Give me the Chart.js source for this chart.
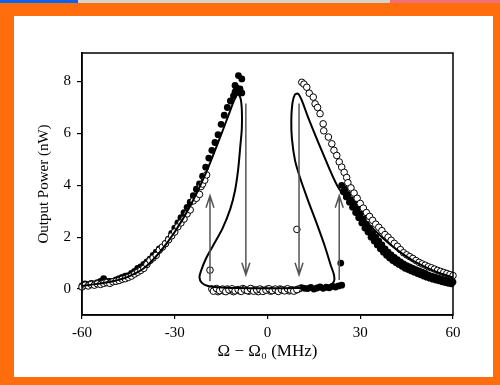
<!DOCTYPE html>
<html>
<head>
<meta charset="utf-8">
<script src="https://cdn.jsdelivr.net/npm/chart.js@4.4.1/dist/chart.umd.min.js"></script>
<style>
  html, body { margin: 0; padding: 0; }
  body { width: 500px; height: 385px; position: relative; overflow: hidden; background: #ff6d0c; }
  #topbar { position: absolute; left: 0; top: 0; width: 500px; height: 3px; background: #d6d3cc; }
  #topblue { position: absolute; left: 0; top: 0; width: 78px; height: 3px; background: #0a64f0; }
  #topred { position: absolute; left: 390px; top: 0; width: 110px; height: 3px; background: #f0707a; }
  #panel { position: absolute; left: 14px; top: 16px; width: 479px; height: 361px; background: #fff; }
  canvas { display: block; }
</style>
</head>
<body>
<div id="topbar"></div>
<div id="topblue"></div>
<div id="topred"></div>
<div id="panel"><canvas id="chart" width="479" height="361"></canvas></div>
<script>
// Tick labels
const xTicks = [-60, -30, 0, 30, 60];
const yTicks = [0, 2, 4, 6, 8];

// Filled circles (sweep up)
const filledX = [-60, -59, -58, -57, -56, -55, -54, -53, -52, -51, -50, -49, -48, -47, -46, -45, -44, -43, -42, -41,
  -40, -39, -38, -37, -36, -35, -34, -33, -32, -31, -30, -29, -28, -27, -26, -25, -24, -23, -22, -21,
  -20, -19, -18, -17, -16, -15, -14, -13, -12, -11, -10.5, -10, -9.4, -8.3, -10.5, -8.9, -10, -8.3,
  10.5, 11, 12, 13, 14, 15, 16, 17, 18, 19, 20, 21, 22, 23, 24, 23.7,
  24, 25, 26, 27, 28, 29, 30, 31, 32, 33, 34, 35, 36, 37, 38, 39, 40, 41, 42, 43, 44, 45, 46, 47, 48, 49,
  50, 51, 52, 53, 54, 55, 56, 57, 58, 59, 60,
  24.5, 25.5, 26.5, 27.5, 28.5, 29.5, 30.5, 31.5, 32.5, 33.5, 34.5, 35.5, 36.5, 37.5, 38.5, 39.5, 40.5, 41.5,
  42.5, 43.5, 44.5, 45.5, 46.5, 47.5, 48.5, 49.5, 50.5, 51.5, 52.5, 53.5, 54.5, 55.5, 56.5, 57.5, 58.5, 59.5];
const filledY = [0.12, 0.2, 0.17, 0.22, 0.2, 0.25, 0.3, 0.4, 0.3, 0.3, 0.3, 0.35, 0.4, 0.45, 0.5, 0.52, 0.6, 0.68, 0.8, 0.85,
  0.95, 1.05, 1.15, 1.3, 1.42, 1.55, 1.62, 1.75, 1.92, 2.15, 2.35, 2.55, 2.75, 2.95, 3.15, 3.35, 3.6, 3.85, 4.05, 4.35,
  4.7, 5.05, 5.35, 5.65, 5.95, 6.35, 6.7, 7.0, 7.25, 7.45, 7.6, 7.75, 8.23, 8.1, 7.85, 7.72, 7.6, 7.56,
  0.02, 0.05, 0.03, 0.02, 0.06, 0.0, 0.04, 0.08, 0.03, 0.07, 0.05, 0.1, 0.08, 0.12, 0.15, 1.0,
  4.0, 3.85, 3.65, 3.45, 3.3, 3.1, 2.9, 2.7, 2.5, 2.35, 2.15, 2.0, 1.85, 1.7, 1.55, 1.42, 1.32, 1.22, 1.13, 1.05, 0.97, 0.9, 0.85, 0.8, 0.75, 0.7,
  0.65, 0.6, 0.55, 0.5, 0.47, 0.43, 0.4, 0.36, 0.33, 0.3, 0.27,
  3.75, 3.55, 3.35, 3.15, 2.95, 2.75, 2.55, 2.35, 2.2, 2.0, 1.85, 1.7, 1.55, 1.42, 1.3, 1.2, 1.1, 1.02,
  0.95, 0.88, 0.8, 0.75, 0.7, 0.65, 0.6, 0.55, 0.5, 0.46, 0.42, 0.38, 0.35, 0.32, 0.28, 0.25, 0.22, 0.2];

// Open circles (sweep down)
const openX = [-60, -59, -58, -57, -56, -55, -54, -53, -52, -51, -50, -49, -48, -47, -46, -45, -44, -43, -42, -41,
  -40, -39, -38, -37, -36, -35, -34, -33, -32, -31, -30, -29, -28, -27, -26, -25, -24, -23, -22, -21.5, -21, -20.3, -19.7,
  -18.6,
  -18, -17, -16, -15, -14, -13, -12, -11, -10, -9, -8, -7, -6, -5, -4, -3, -2, -1, 0, 1, 2, 3, 4, 5, 6, 7, 8, 9, 10,
  -17.5, -16.5, -15.5, -14.5, -13.5, -12.5, -11.5, -10.5, -9.5, -8.5, -7.5, -6.5, -5.5, -4.5, -3.5, -2.5, -1.5, -0.5,
  0.5, 1.5, 2.5, 3.5, 4.5, 5.5, 6.5, 7.5, 8.5, 9.5,
  9.5, 11.1, 11.8, 12.7, 13.5, 14.8, 15.4, 16.2, 17, 18, 18.2, 19.7, 20.8, 21.5, 22.4, 23.2, 24, 24.8, 25.6,
  26, 27, 28, 29, 30, 31, 32, 33, 34, 35, 36, 37, 38, 39, 40, 41, 42, 43, 44, 45, 46, 47, 48, 49, 50,
  51, 52, 53, 54, 55, 56, 57, 58, 59, 60];
const openY = [0.08, 0.15, 0.12, 0.18, 0.15, 0.2, 0.18, 0.22, 0.25, 0.22, 0.28, 0.3, 0.33, 0.38, 0.4, 0.45, 0.5, 0.58, 0.65, 0.72,
  0.8, 0.95, 1.1, 1.2, 1.3, 1.5, 1.62, 1.75, 1.9, 2.05, 2.2, 2.4, 2.55, 2.7, 2.9, 3.05, 3.4, 3.5, 3.65, 3.95, 4.05, 4.2, 4.4,
  0.73,
  0.0, -0.05, -0.1, -0.02, -0.08, 0.0, -0.05, -0.1, -0.03, -0.07, 0.02, -0.04, -0.08, 0.0, -0.05, -0.1, -0.02, -0.06, 0.0, -0.08, -0.03, -0.06, 0.0, -0.05, -0.02, -0.07, -0.03, -0.05, 0.0,
  -0.08, 0.02, -0.06, 0.0, -0.1, -0.03, 0.01, -0.07, -0.02, -0.09, -0.01, -0.06, 0.02, -0.08, -0.03, 0.0, -0.09, -0.04,
  0.01, -0.06, 0.0, -0.09, -0.02, -0.07, 0.01, -0.04, -0.08, -0.02,
  2.3, 7.97, 7.9, 7.78, 7.55, 7.4, 7.14, 7.0, 6.76, 6.37, 6.1, 5.86, 5.6, 5.35, 5.15, 4.9, 4.7, 4.5, 4.3,
  4.1, 3.9, 3.7, 3.5, 3.3, 3.12, 2.95, 2.8, 2.65, 2.5, 2.38, 2.25, 2.1, 2.0, 1.88, 1.76, 1.65, 1.52, 1.4, 1.32, 1.25, 1.18, 1.1, 1.03, 0.97,
  0.92, 0.86, 0.82, 0.77, 0.72, 0.68, 0.64, 0.6, 0.56, 0.52];

// Theory curve, traced as one path (both bistable branches)
const theoryX = [-60, -55, -50, -45, -40, -35, -30, -25, -20, -15, -12, -10.5, -9.5, -8.7, -8.3, -8.3, -8.8, -9.5, -10.5, -12,
  -14.5, -17.5, -20, -21.5, -22, -21.3, -19.5, -16, -10, 0, 10, 17, 20, 21.5, 21.5, 20.5, 18.6, 16, 13.1, 10.5,
  8.9, 7.9, 7.7, 8.1, 8.9, 9.9, 11, 13.1, 17.5, 22.8, 27, 32, 37, 42, 47, 52, 56, 60];
const theoryY = [0.12, 0.2, 0.3, 0.48, 0.8, 1.4, 2.2, 3.2, 4.45, 5.95, 6.9, 7.35, 7.5, 7.35, 6.9, 6.2, 5.5, 4.6, 3.8, 3.1,
  2.35, 1.7, 1.15, 0.7, 0.45, 0.25, 0.13, 0.07, 0.04, 0.03, 0.04, 0.07, 0.13, 0.3, 0.55, 0.9, 1.63, 2.5, 3.42, 4.3,
  4.96, 5.8, 6.5, 7.2, 7.5, 7.53, 7.3, 6.63, 5.35, 3.93, 3.3, 2.6, 2.0, 1.5, 1.1, 0.8, 0.6, 0.45];

// Jump arrows: x position, start value, end value
const arrowX = [-18.6, -7.0, 10.2, 23.2];
const arrowFrom = [0.3, 7.15, 7.15, 0.35];
const arrowTo = [3.6, 0.55, 0.55, 3.6];

const toPoints = (xs, ys) => xs.map((x, i) => ({ x: x, y: ys[i] }));
const serif = "'Liberation Serif', 'DejaVu Serif', serif";

const boxPlugin = {
  id: 'box',
  afterDatasetsDraw(chart) {
    const { ctx, scales } = chart;
    ctx.save();
    ctx.strokeStyle = '#555';
    ctx.lineWidth = 1.5;
    for (let i = 0; i < arrowX.length; i++) {
      const px = scales.x.getPixelForValue(arrowX[i]);
      const y0 = scales.y.getPixelForValue(arrowFrom[i]);
      const y1 = scales.y.getPixelForValue(arrowTo[i]);
      const dir = y1 < y0 ? 1 : -1;
      ctx.beginPath();
      ctx.moveTo(px, y0);
      ctx.lineTo(px, y1);
      ctx.moveTo(px - 4, y1 + dir * 12);
      ctx.lineTo(px, y1);
      ctx.lineTo(px + 4, y1 + dir * 12);
      ctx.stroke();
    }
    ctx.restore();
  },
  afterDraw(chart) {
    const { ctx, chartArea } = chart;
    ctx.save();
    ctx.strokeStyle = '#000';
    ctx.lineWidth = 1.5;
    ctx.strokeRect(chartArea.left, chartArea.top, chartArea.right - chartArea.left, chartArea.bottom - chartArea.top);
    ctx.restore();
  }
};

new Chart(document.getElementById('chart'), {
  type: 'scatter',
  data: {
    datasets: [
      {
        data: toPoints(theoryX, theoryY),
        showLine: true,
        borderColor: '#000',
        borderWidth: 2,
        pointRadius: 0,
        tension: 0.3,
        clip: false,
        order: 1
      },
      {
        data: toPoints(openX, openY),
        backgroundColor: '#fff',
        borderColor: '#000',
        borderWidth: 1,
        pointRadius: 3.3,
        clip: false,
        order: 2
      },
      {
        data: toPoints(filledX, filledY),
        backgroundColor: '#000',
        borderColor: '#000',
        borderWidth: 0,
        pointRadius: 3.4,
        clip: false,
        order: 3
      }
    ]
  },
  options: {
    responsive: false,
    animation: false,
    layout: { padding: { top: 37, right: 40, left: 0, bottom: 0 } },
    plugins: { legend: { display: false }, tooltip: { enabled: false } },
    scales: {
      x: {
        type: 'linear',
        min: -60,
        max: 60,
        afterBuildTicks: (scale) => { scale.ticks = xTicks.map(v => ({ value: v })); },
        afterFit: (scale) => { scale.height = 62; },
        grid: { drawOnChartArea: false, tickLength: 4, color: '#000', lineWidth: 1.2 },
        border: { color: '#000', width: 1.5 },
        ticks: { color: '#000', font: { family: serif, size: 15 }, padding: 5 },
        title: {
          display: true,
          text: 'Ω − Ω₀ (MHz)',
          color: '#000',
          font: { family: serif, size: 17 },
          padding: { top: 0, bottom: 15 }
        }
      },
      y: {
        min: -1,
        max: 9.1,
        afterBuildTicks: (scale) => { scale.ticks = yTicks.map(v => ({ value: v })); },
        afterFit: (scale) => { scale.width = 68; },
        grid: { drawOnChartArea: false, tickLength: 5, color: '#000', lineWidth: 1.2 },
        border: { color: '#000', width: 1.5 },
        ticks: { color: '#000', font: { family: serif, size: 15 }, padding: 6 },
        title: {
          display: true,
          text: 'Output Power (nW)',
          color: '#000',
          font: { family: serif, size: 15 },
          padding: { top: 21, bottom: 0 }
        }
      }
    }
  },
  plugins: [boxPlugin]
});
</script>
</body>
</html>
